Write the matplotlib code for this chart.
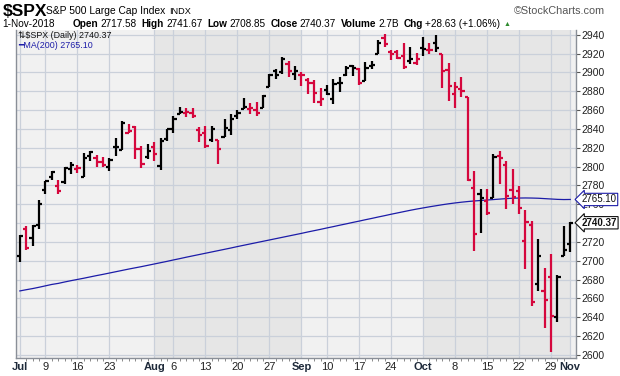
import matplotlib
matplotlib.use("Agg")
import matplotlib.pyplot as plt

plt.rcParams["font.family"] = ["Liberation Sans", "DejaVu Sans"]

# daily OHLC, Jul 2 2018 .. Nov 1 2018
dates = ["Jul 2", "Jul 3", "Jul 5", "Jul 6", "Jul 9", "Jul 10", "Jul 11", "Jul 12", "Jul 13",
         "Jul 16", "Jul 17", "Jul 18", "Jul 19", "Jul 20", "Jul 23", "Jul 24", "Jul 25", "Jul 26",
         "Jul 27", "Jul 30", "Jul 31",
         "Aug 1", "Aug 2", "Aug 3", "Aug 6", "Aug 7", "Aug 8", "Aug 9", "Aug 10", "Aug 13",
         "Aug 14", "Aug 15", "Aug 16", "Aug 17", "Aug 20", "Aug 21", "Aug 22", "Aug 23", "Aug 24",
         "Aug 27", "Aug 28", "Aug 29", "Aug 30", "Aug 31",
         "Sep 4", "Sep 5", "Sep 6", "Sep 7", "Sep 10", "Sep 11", "Sep 12", "Sep 13", "Sep 14",
         "Sep 17", "Sep 18", "Sep 19", "Sep 20", "Sep 21", "Sep 24", "Sep 25", "Sep 26", "Sep 27",
         "Sep 28",
         "Oct 1", "Oct 2", "Oct 3", "Oct 4", "Oct 5", "Oct 8", "Oct 9", "Oct 10", "Oct 11",
         "Oct 12", "Oct 15", "Oct 16", "Oct 17", "Oct 18", "Oct 19", "Oct 22", "Oct 23", "Oct 24",
         "Oct 25", "Oct 26", "Oct 29", "Oct 30", "Oct 31",
         "Nov 1"]

opens = [2704.95, 2733.27, 2724.19, 2737.68, 2775.62, 2788.56, 2779.82, 2783.14, 2796.93,
         2797.36, 2789.34, 2811.35, 2809.37, 2804.55, 2799.17, 2820.68, 2817.73, 2835.49,
         2842.35, 2819.00, 2809.73,
         2821.17, 2800.48, 2829.62, 2840.29, 2855.92, 2856.79, 2857.19, 2838.90, 2835.46,
         2827.88, 2827.95, 2831.44, 2838.32, 2853.93, 2861.51, 2860.99, 2860.29, 2862.35,
         2884.69, 2901.45, 2900.62, 2908.94, 2898.37,
         2896.96, 2891.59, 2888.64, 2868.26, 2881.39, 2871.57, 2888.29, 2896.85, 2906.38,
         2903.83, 2890.74, 2906.60, 2919.73, 2936.14, 2921.83, 2921.75, 2916.98, 2911.65,
         2910.03,
         2926.29, 2923.80, 2931.69, 2919.35, 2902.54, 2877.53, 2882.51, 2873.90, 2776.87,
         2770.54, 2763.83, 2767.05, 2811.67, 2802.00, 2775.66, 2773.94, 2721.03, 2737.87,
         2674.88, 2667.86, 2682.65, 2640.68, 2705.60,
         2717.58]

highs = [2727.26, 2736.58, 2737.83, 2764.41, 2784.65, 2795.58, 2785.91, 2799.22, 2804.53,
         2801.19, 2814.19, 2816.76, 2812.05, 2809.70, 2808.61, 2829.99, 2848.03, 2845.57,
         2843.17, 2821.74, 2824.46,
         2825.83, 2829.91, 2840.38, 2853.29, 2863.43, 2862.44, 2862.48, 2842.20, 2843.40,
         2843.11, 2827.95, 2850.49, 2855.63, 2859.76, 2873.23, 2867.54, 2868.78, 2876.16,
         2898.25, 2903.77, 2916.50, 2912.46, 2906.32,
         2900.18, 2894.21, 2892.05, 2883.81, 2886.93, 2892.52, 2894.65, 2906.76, 2908.30,
         2904.65, 2911.17, 2912.36, 2934.80, 2940.91, 2923.79, 2923.95, 2931.15, 2927.22,
         2920.53,
         2937.06, 2931.42, 2939.86, 2919.78, 2909.64, 2889.45, 2894.83, 2874.02, 2795.14,
         2775.77, 2775.99, 2813.46, 2816.94, 2806.04, 2797.77, 2778.94, 2753.59, 2742.59,
         2722.70, 2692.38, 2706.85, 2685.43, 2736.69,
         2741.67]

lows = [2698.95, 2711.16, 2716.02, 2733.52, 2770.73, 2786.24, 2770.77, 2781.53, 2791.69,
        2793.39, 2789.24, 2805.89, 2799.77, 2800.01, 2795.14, 2811.12, 2817.73, 2835.26,
        2808.34, 2798.11, 2808.06,
        2805.85, 2796.34, 2827.37, 2835.98, 2855.92, 2853.09, 2851.98, 2825.81, 2819.88,
        2826.58, 2802.49, 2831.44, 2833.73, 2850.62, 2861.32, 2856.05, 2854.03, 2862.35,
        2884.69, 2893.50, 2898.40, 2895.22, 2891.73,
        2885.13, 2876.92, 2867.29, 2864.12, 2875.94, 2866.78, 2879.20, 2896.39, 2895.77,
        2886.16, 2890.43, 2903.82, 2919.73, 2927.11, 2912.63, 2913.70, 2903.28, 2909.27,
        2907.50,
        2917.91, 2919.37, 2921.36, 2883.92, 2869.29, 2862.08, 2874.27, 2784.86, 2710.51,
        2729.44, 2749.03, 2766.91, 2781.81, 2755.18, 2760.27, 2749.22, 2691.43, 2651.89,
        2667.84, 2628.16, 2603.54, 2635.34, 2705.60,
        2708.85]

closes = [2726.71, 2713.22, 2736.61, 2759.82, 2784.17, 2793.84, 2774.02, 2798.29, 2801.31,
          2798.43, 2809.55, 2815.62, 2804.49, 2801.83, 2806.98, 2820.40, 2846.07, 2837.44,
          2818.82, 2802.60, 2816.29,
          2813.36, 2827.22, 2840.35, 2850.40, 2858.45, 2857.70, 2853.58, 2833.28, 2821.93,
          2839.96, 2818.37, 2840.69, 2850.13, 2857.05, 2862.96, 2861.82, 2856.98, 2874.69,
          2896.74, 2897.52, 2914.04, 2901.13, 2901.52,
          2896.72, 2888.60, 2878.05, 2871.68, 2877.13, 2887.89, 2888.92, 2904.18, 2904.98,
          2888.80, 2904.31, 2907.95, 2930.75, 2929.67, 2919.37, 2915.56, 2905.97, 2914.00,
          2913.98,
          2924.59, 2923.43, 2925.51, 2901.61, 2885.57, 2884.43, 2880.34, 2785.68, 2728.37,
          2767.13, 2750.79, 2809.92, 2809.21, 2768.78, 2767.78, 2755.88, 2740.69, 2656.10,
          2705.57, 2658.69, 2641.25, 2682.63, 2711.74,
          2740.37]

prev_close = 2718.37  # Jun 29 close, colours the first bar

ma200 = [2668.0, 2669.3, 2670.5, 2671.9, 2673.4, 2674.9, 2676.0, 2677.5, 2678.9, 2680.2,
         2681.5, 2682.9, 2684.3, 2685.6, 2687.0, 2688.4, 2689.8, 2691.2, 2692.5, 2693.8,
         2695.2, 2696.6, 2698.0, 2699.4, 2700.9, 2702.3, 2703.8, 2705.2, 2706.6, 2708.0,
         2709.4, 2710.8, 2712.2, 2713.6, 2715.1, 2716.5, 2717.9, 2719.3, 2720.7, 2722.1,
         2723.5, 2724.9, 2726.3, 2727.7, 2729.1, 2730.6, 2732.0, 2733.4, 2734.9, 2736.3,
         2737.8, 2739.2, 2740.7, 2742.1, 2743.6, 2745.0, 2746.5, 2747.9, 2749.4, 2750.8,
         2752.2, 2753.6, 2754.9, 2756.1, 2757.3, 2758.4, 2759.5, 2760.5, 2761.4, 2762.2,
         2762.9, 2763.5, 2764.0, 2764.5, 2765.0, 2765.5, 2766.0, 2766.4, 2766.6, 2766.7,
         2766.6, 2766.4, 2766.0, 2765.6, 2765.2, 2765.0, 2765.1]

tick_dates = ["Jul 2", "Jul 9", "Jul 16", "Jul 23", "Aug 1", "Aug 6", "Aug 13", "Aug 20",
              "Aug 27", "Sep 4", "Sep 10", "Sep 17", "Sep 24", "Oct 1", "Oct 8", "Oct 15",
              "Oct 22", "Oct 29", "Nov 1"]
tick_labels = ["Jul", "9", "16", "23", "Aug", "6", "13", "20", "27", "Sep", "10", "17", "24",
               "Oct", "8", "15", "22", "29", "Nov"]
yticks = list(range(2600, 2941, 20))

header_items = [("Open", "2717.58"), ("High", "2741.67"), ("Low", "2708.85"),
                ("Close", "2740.37"), ("Volume", "2.7B"), ("Chg", "+28.63 (+1.06%)")]

RED = "#D5073D"
BLACK = "#000000"
BLUE = "#1C1CA8"

fig = plt.figure(figsize=(6.2, 3.76), dpi=100)
ax = fig.add_axes([16 / 620, 1 - 358 / 376, 560 / 620, 328 / 376])
ax.set_facecolor("#F1F1F1")

x = list(range(len(dates)))
pos = {d: i for i, d in enumerate(dates)}

# darker shading for alternate months (Aug, Oct)
ax.axvspan(pos["Aug 1"], pos["Sep 4"], color="#E6E6E6", zorder=0, lw=0)
ax.axvspan(pos["Oct 1"], pos["Nov 1"], color="#E6E6E6", zorder=0, lw=0)

ax.set_xlim(-0.6, 86.9)
ax.set_ylim(2596.8, 2945)

ax.set_yticks(yticks)
ax.set_xticks([pos[d] for d in tick_dates])
ax.grid(True, color="#CAD0DA", lw=0.9, zorder=1)
ax.set_axisbelow(True)

# OHLC bars, coloured by close vs previous close
prevs = [prev_close] + closes[:-1]
colors = [BLACK if c >= p else RED for c, p in zip(closes, prevs)]
w = 0.5
ax.vlines(x, lows, highs, colors=colors, lw=1.6, zorder=3)
ax.hlines(opens, [i - w for i in x], x, colors=colors, lw=1.6, zorder=3)
ax.hlines(closes, x, [i + w for i in x], colors=colors, lw=1.6, zorder=3)

ax.plot(x, ma200, color=BLUE, lw=0.9, zorder=2)

# axes styling
ax.yaxis.tick_right()
ax.tick_params(axis="y", length=3, width=0.8, color="#555555", labelsize=7.5,
               labelcolor="#222222", pad=1)
ax.tick_params(axis="x", length=0, labelsize=8, labelcolor="#222222", pad=3)
ax.set_xticks(x, minor=True)
ax.tick_params(axis="x", which="minor", length=2, color="#777777", width=0.6)
ax.set_xticklabels(tick_labels)
for lab in ax.get_xticklabels():
    if not lab.get_text().isdigit():
        lab.set_fontweight("bold")
        lab.set_color("#1E2A3A")
for side in ["left", "right", "bottom"]:
    ax.spines[side].set_color("#8A8F98")
    ax.spines[side].set_linewidth(1.0)
ax.spines["top"].set_visible(False)

# price tags on the right axis
ax.annotate("2765.10", xy=(1.0, ma200[-1]), xycoords=("axes fraction", "data"),
            xytext=(4, 0), textcoords="offset points", va="center", ha="left",
            fontsize=7, color="#111111",
            bbox=dict(boxstyle="larrow,pad=0.12", fc="white", ec=BLUE, lw=0.8),
            annotation_clip=False, zorder=5)
ax.annotate("2740.37", xy=(1.0, closes[-1]), xycoords=("axes fraction", "data"),
            xytext=(4, 0), textcoords="offset points", va="center", ha="left",
            fontsize=7, fontweight="bold", color="#111111",
            bbox=dict(boxstyle="larrow,pad=0.12", fc="white", ec="#111111", lw=0.8),
            annotation_clip=False, zorder=5)

# legend text inside plot
ax.text(0.003, 0.997, "\u21c5$SPX (Daily) 2740.37", transform=ax.transAxes,
        fontsize=6.4, color="#111111", va="top", ha="left", zorder=6)
ax.text(0.003, 0.967, "\u2501MA(200) 2765.10", transform=ax.transAxes,
        fontsize=6.4, color=BLUE, va="top", ha="left", zorder=6)

# header
fig.canvas.draw()
renderer = fig.canvas.get_renderer()
top = 1 - 11 / 376
fig.text(3 / 620, top, "$SPX", fontsize=12.5, fontweight="bold", va="center")
t = fig.text(46 / 620, top, "S&P 500 Large Cap Index", fontsize=7.4, va="center")
fig.text((t.get_window_extent(renderer).x1 + 4) / 620, top, "INDX", fontsize=6.6,
         va="center")
fig.text(605 / 620, top, "\u00a9StockCharts.com", fontsize=7.8, va="center",
         ha="right", color="#555555")

row = 1 - 24 / 376
fs = 7.2
fig.text(2 / 620, row, "1-Nov-2018", fontsize=fs, va="center")
cur = 73
for label, value in header_items:
    t = fig.text(cur / 620, row, label, fontsize=fs, fontweight="bold", va="center")
    cur = t.get_window_extent(renderer).x1 + 2
    t = fig.text(cur / 620, row, value, fontsize=fs, va="center")
    cur = t.get_window_extent(renderer).x1 + 5
fig.text((cur - 2) / 620, row, "\u25b2", fontsize=5, va="center", color="#2E8B2E")

fig.savefig("out.png", dpi=100)
